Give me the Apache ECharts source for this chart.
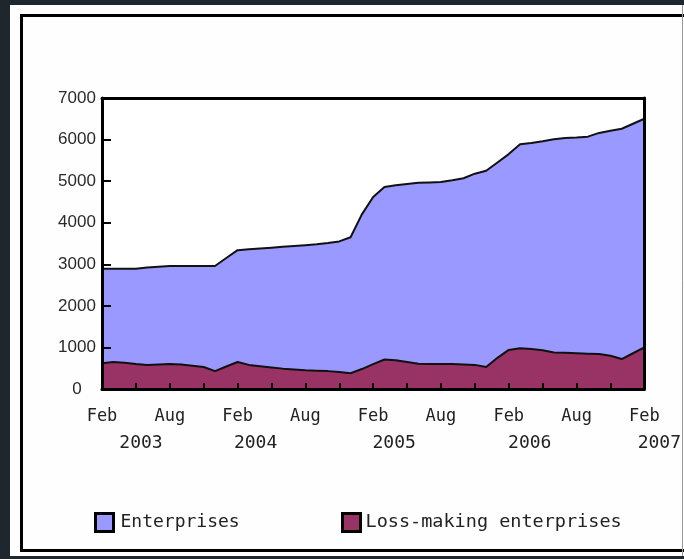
<!DOCTYPE html>
<html>
<head>
<meta charset="utf-8">
<script src="https://cdn.jsdelivr.net/npm/echarts@6/dist/echarts.min.js"></script>
<style>
html,body{margin:0;padding:0;background:#1e272e;}
#c{width:684px;height:559px;}
</style>
</head>
<body>
<div id="c"></div>
<script>
// Monthly, Feb 2003 .. Feb 2007
const months = ['Feb','Mar','Apr','May','Jun','Jul','Aug','Sep','Oct','Nov','Dec','Jan'];
const startYear = 2003;
const categories = [];
for (let i = 0; i <= 48; i++) {
  const m = months[i % 12];
  const y = startYear + Math.floor((i + 1) / 12);
  categories.push(m + ' ' + y);
}
const enterprises = [
  2890,2890,2890,2890,2920,2940,2960,2960,2960,2960,2960,3150,
  3340,3360,3380,3400,3420,3440,3460,3480,3510,3550,3650,4200,
  4620,4860,4900,4930,4960,4970,4980,5020,5070,5180,5250,5450,
  5650,5890,5920,5960,6010,6040,6050,6070,6160,6210,6260,6380,
  6500
];
const lossMaking = [
  620,650,630,600,580,590,600,590,560,530,430,540,
  650,580,550,520,490,470,450,440,430,410,380,480,
  600,710,690,650,610,600,600,600,590,580,530,750,
  940,980,960,930,880,870,860,850,840,800,720,860,
  1000
];
const yearLabels = {0:'2003', 12:'2004', 24:'2005', 36:'2006', 48:'2007'};
const yearShift = {0:78, 12:36, 24:42, 36:42, 48:30};
const seriesNames = ['Enterprises', 'Loss-making enterprises'];
const seriesColors = ['#9999ff', '#993366'];

const chart = echarts.init(document.getElementById('c'));
const monoFont = '"DejaVu Sans Mono", monospace';
const rich = {
  m: {fontFamily: monoFont, fontSize: 17, color: '#222', lineHeight: 26, align: 'center'}
};
for (const k in yearShift) {
  rich['y' + k] = {fontFamily: monoFont, fontSize: 18, color: '#222', lineHeight: 26, padding: [0, 0, 0, yearShift[k]]};
}

chart.setOption({
  backgroundColor: '#1e272e',
  animation: false,
  graphic: [
    {type: 'rect', z: -10, shape: {x: 10, y: 5, width: 674, height: 551}, style: {fill: '#fdfefd'}},
    {type: 'rect', z: -9, shape: {x: 21.5, y: 15.5, width: 700, height: 535}, style: {fill: null, stroke: '#000', lineWidth: 3}},
    {type: 'line', z: -9, shape: {x1: 682.5, y1: 5, x2: 682.5, y2: 556}, style: {stroke: '#999', lineWidth: 1}}
  ],
  grid: {left: 102, right: 39, top: 98, bottom: 170, show: true, backgroundColor: '#fff', borderWidth: 0},
  legend: [
    {data: [seriesNames[0]], left: 89, top: 507, icon: 'rect', itemWidth: 18, itemHeight: 18,
     itemStyle: {borderColor: '#000', borderWidth: 3}, itemGap: 6,
     textStyle: {fontFamily: monoFont, fontSize: 18, color: '#222', padding: [0,0,0,2]}},
    {data: [seriesNames[1]], left: 336, top: 507, icon: 'rect', itemWidth: 18, itemHeight: 18,
     itemStyle: {borderColor: '#000', borderWidth: 3}, itemGap: 6,
     textStyle: {fontFamily: monoFont, fontSize: 18.5, color: '#222', padding: [0,0,0,0]}}
  ],
  xAxis: [{
    type: 'category', data: categories, boundaryGap: false, z: 10,
    axisLine: {show: true, onZero: false, lineStyle: {color: '#000', width: 3}},
    axisTick: {show: true, inside: true, interval: (i) => i % 3 === 0 && i !== 0 && i !== 48, length: 6, lineStyle: {color: '#000', width: 2}},
    axisLabel: {
      interval: 0, margin: 15,
      formatter: (v, i) => {
        if (i % 6 !== 0) return '';
        const m = v.split(' ')[0];
        if (yearLabels[i] !== undefined) return '{m|' + m + '}\n{y' + i + '|' + yearLabels[i] + '}';
        return '{m|' + m + '}';
      },
      rich: rich,
      verticalAlign: 'top'
    },
    splitLine: {show: false}
  }, {
    type: 'category', data: categories, boundaryGap: false, position: 'top', z: 10,
    axisLine: {show: true, onZero: false, lineStyle: {color: '#000', width: 3}},
    axisTick: {show: false}, axisLabel: {show: false}
  }],
  yAxis: [{
    type: 'value', min: 0, max: 7000, interval: 1000, z: 10,
    axisLine: {show: true, onZero: false, lineStyle: {color: '#000', width: 3}},
    axisTick: {show: true, inside: true, length: 9, lineStyle: {color: '#000', width: 2}},
    axisLabel: {margin: 25, align: 'center', formatter: (v) => String(v),
      fontFamily: '"Liberation Sans", Arial, sans-serif', fontSize: 17, color: '#2a2a2a'},
    splitLine: {show: false}
  }, {
    type: 'value', min: 0, max: 7000, interval: 1000, position: 'right', z: 10,
    axisLine: {show: true, onZero: false, lineStyle: {color: '#000', width: 3}},
    axisTick: {show: false}, axisLabel: {show: false}, splitLine: {show: false}
  }],
  series: [
    {name: seriesNames[0], type: 'line', data: enterprises, showSymbol: false, symbol: 'none',
     color: seriesColors[0], lineStyle: {color: '#111', width: 2}, areaStyle: {color: seriesColors[0], opacity: 1}},
    {name: seriesNames[1], type: 'line', data: lossMaking, showSymbol: false, symbol: 'none',
     color: seriesColors[1], lineStyle: {color: '#111', width: 2}, areaStyle: {color: seriesColors[1], opacity: 1}}
  ]
});
</script>
</body>
</html>
